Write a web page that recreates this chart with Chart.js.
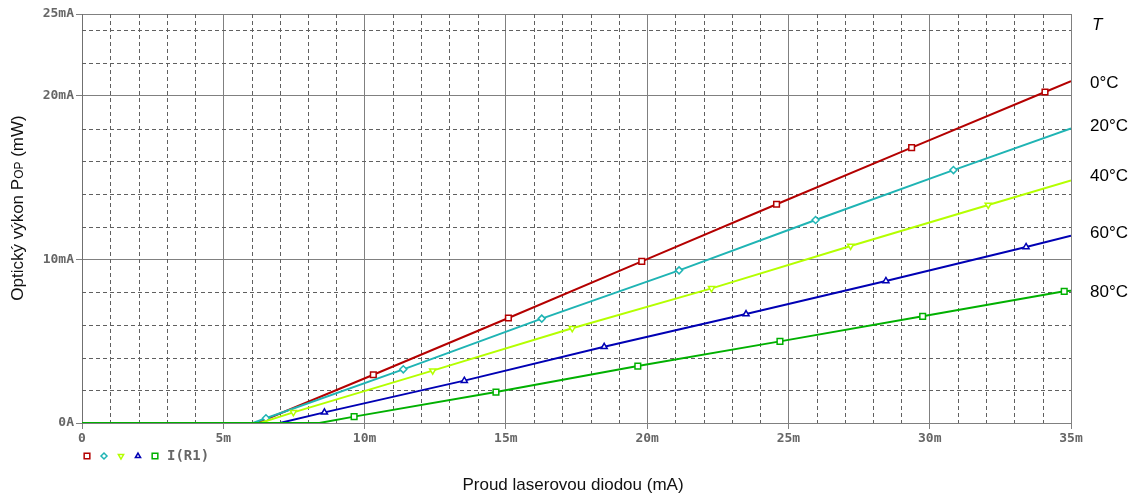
<!DOCTYPE html>
<html>
<head>
<meta charset="utf-8">
<title>Opticky vykon</title>
<script src="https://cdn.jsdelivr.net/npm/chart.js@4.4.1/dist/chart.umd.min.js"></script>
<style>
  html, body { margin: 0; padding: 0; background: #fff; }
  #wrap { width: 1136px; height: 494px; }
</style>
</head>
<body>
<div id="wrap"><canvas id="chart" width="1136" height="494"></canvas></div>
<script>
// laser current (mA) vs optical power (mW)
const redX    = [0, 6.2, 10.31, 15.09, 19.81, 24.58, 29.36, 34.08, 35];
const redY    = [0, 0,   2.95,  6.42,  9.88,  13.37, 16.83, 20.23, 20.9];
const cyanX   = [0, 6.05, 6.51, 11.37, 16.27, 21.13, 25.96, 30.84, 35];
const cyanY   = [0, 0,    0.29, 3.28,  6.38,  9.33,  12.41, 15.46, 18.01];
const yellowX = [0, 6.3, 7.48, 12.41, 17.35, 22.28, 27.20, 32.07, 35];
const yellowY = [0, 0,   0.65, 3.20,  5.79,  8.23,  10.82, 13.33, 14.83];
const blueX   = [0, 7.0, 8.58, 13.53, 18.48, 23.50, 28.45, 33.41, 35];
const blueY   = [0, 0,   0.65, 2.59,  4.66,  6.66,  8.68,  10.76, 11.45];
const greenX  = [0, 8.4, 9.63, 14.65, 19.67, 24.70, 29.75, 34.76, 35];
const greenY  = [0, 0,   0.39, 1.89,  3.48,  4.99,  6.52,  8.05,  8.09];

const tempLabels = ['0°C', '20°C', '40°C', '60°C', '80°C'];
const xTicks = [0, 5, 10, 15, 20, 25, 30, 35];
const yTicks = [0, 10, 20, 25];
const yTickText = ['0A', '10mA', '20mA', '25mA'];

const seriesColors = ['#b40000', '#1fb4b4', '#b4ff00', '#0000b4', '#00b000'];
const seriesStyles = ['rect', 'rectRot', 'triangle', 'triangle', 'rect'];
const seriesRot = [0, 0, 180, 0, 0];

function pts(xs, ys) {
    return xs.map((x, i) => ({ x: x, y: ys[i] }));
}

const allData = [pts(redX, redY), pts(cyanX, cyanY), pts(yellowX, yellowY), pts(blueX, blueY), pts(greenX, greenY)];

const datasets = allData.map((d, i) => ({
    label: tempLabels[i],
    data: d,
    borderColor: seriesColors[i],
    borderWidth: 2,
    pointStyle: seriesStyles[i],
    rotation: seriesRot[i],
    pointBackgroundColor: '#fff',
    pointBorderColor: seriesColors[i],
    pointBorderWidth: 1.5,
    pointRadius: (c) => {
        const p = c.raw;
        if (!p || p.y === 0 || p.x === 35) return 0;
        return seriesStyles[i] === 'rect' ? 4 : 3.5;
    },
    order: 4 - i,   // green on top like in pspice
    tension: 0
}));

const monoFont = { family: 'DejaVu Sans Mono', size: 13, weight: 'bold' };
const minorDash = [4, 3];

// minor dashed grid
const minorGrid = {
    id: 'minorGrid',
    beforeDatasetsDraw(chart) {
        const { ctx, chartArea: a, scales } = chart;
        ctx.save();
        ctx.strokeStyle = '#606060';
        ctx.lineWidth = 1;
        ctx.setLineDash(minorDash);
        for (let v = 1; v < 35; v++) {
            if (v % 5 === 0) continue;
            const x = Math.round(scales.x.getPixelForValue(v)) + 0.5;
            ctx.beginPath();
            ctx.moveTo(x, a.top);
            ctx.lineTo(x, a.bottom);
            ctx.stroke();
        }
        for (let v = 2; v < 25; v += 2) {
            if (v % 10 === 0) continue;
            const y = Math.round(scales.y.getPixelForValue(v)) + 0.5;
            ctx.beginPath();
            ctx.moveTo(a.left, y);
            ctx.lineTo(a.right, y);
            ctx.stroke();
        }
        ctx.restore();
    }
};

// titles, temperature labels and the pspice legend
const extras = {
    id: 'extras',
    afterDraw(chart) {
        const { ctx } = chart;
        ctx.save();
        ctx.fillStyle = '#111';
        ctx.textBaseline = 'middle';

        // x title
        ctx.font = '17px "Liberation Sans", Arial, sans-serif';
        ctx.textAlign = 'center';
        ctx.fillText('Proud laserovou diodou (mA)', 573, 485);

        // y title with small "OP"
        const big = '17px "Liberation Sans", Arial, sans-serif';
        const small = '12px "Liberation Sans", Arial, sans-serif';
        const parts = [['Optický výkon P', big], ['OP', small], [' (mW)', big]];
        let total = 0;
        parts.forEach(p => { ctx.font = p[1]; total += ctx.measureText(p[0]).width; });
        ctx.translate(17, 208);
        ctx.rotate(-Math.PI / 2);
        ctx.textAlign = 'left';
        ctx.textBaseline = 'alphabetic';
        let cx = -total / 2;
        parts.forEach(p => {
            ctx.font = p[1];
            ctx.fillText(p[0], cx, 6);
            cx += ctx.measureText(p[0]).width;
        });
        ctx.setTransform(1, 0, 0, 1, 0, 0);

        // right side labels
        ctx.textAlign = 'left';
        ctx.textBaseline = 'middle';
        ctx.fillStyle = '#000';
        ctx.font = 'italic 17px "Liberation Sans", Arial, sans-serif';
        ctx.fillText('T', 1092, 25);
        ctx.font = '17px "Liberation Sans", Arial, sans-serif';
        const labelY = [83, 126, 176, 233, 292];
        tempLabels.forEach((t, i) => ctx.fillText(t, 1090, labelY[i]));

        // legend
        const lx = [87, 104, 121, 138, 155];
        lx.forEach((x, i) => {
            ctx.strokeStyle = seriesColors[i];
            ctx.fillStyle = '#fff';
            ctx.lineWidth = 1.5;
            Chart.helpers.drawPoint(ctx, {
                pointStyle: seriesStyles[i],
                rotation: seriesRot[i],
                radius: seriesStyles[i] === 'rect' ? 4 : 3,
                borderWidth: 1.5
            }, x, 456);
        });
        ctx.fillStyle = '#666';
        ctx.font = 'bold 14px "DejaVu Sans Mono", monospace';
        ctx.textAlign = 'left';
        ctx.fillText('I(R1)', 167, 456);
        ctx.restore();
    }
};

const ctx = document.getElementById('chart').getContext('2d');
const chart = new Chart(ctx, {
    type: 'line',
    data: { datasets: datasets },
    options: {
        responsive: false,
        animation: false,
        events: [],
        layout: { padding: { top: 14, right: 65, left: 0, bottom: 0 } },
        plugins: {
            legend: { display: false },
            tooltip: { enabled: false }
        },
        scales: {
            x: {
                type: 'linear',
                min: 0,
                max: 35,
                afterBuildTicks: (s) => { s.ticks = xTicks.map(v => ({ value: v })); },
                afterFit: (s) => { s.height = 71; },
                ticks: {
                    color: '#666',
                    font: monoFont,
                    padding: 2,
                    maxRotation: 0,
                    callback: (v) => v === 0 ? '0' : v + 'm'
                },
                grid: { color: '#808080', lineWidth: 1, tickLength: 6, tickColor: '#808080' },
                border: { color: '#808080' }
            },
            y: {
                type: 'linear',
                min: 0,
                max: 25,
                afterBuildTicks: (s) => { s.ticks = yTicks.map(v => ({ value: v })); },
                afterFit: (s) => { s.width = 82; },
                ticks: {
                    color: '#666',
                    font: monoFont,
                    padding: 2,
                    callback: (v) => yTickText[yTicks.indexOf(v)]
                },
                grid: { color: '#808080', lineWidth: 1, tickLength: 6, tickColor: '#808080' },
                border: { color: '#707070' }
            }
        }
    },
    plugins: [minorGrid, extras]
});
</script>
</body>
</html>
